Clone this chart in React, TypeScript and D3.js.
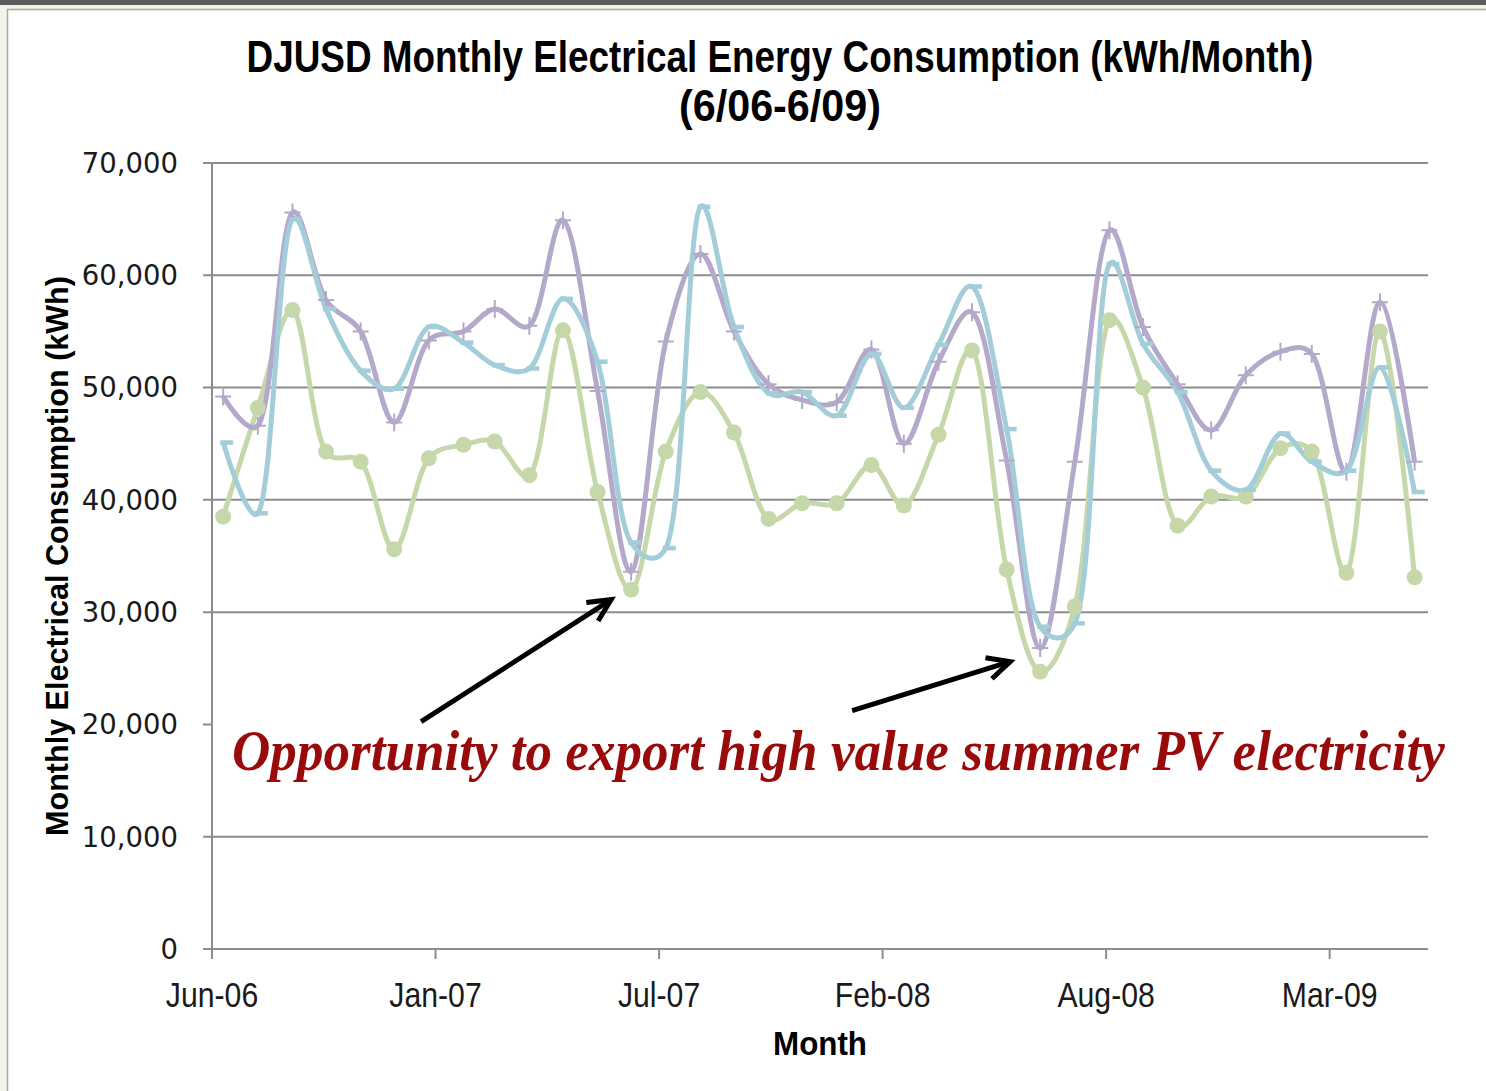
import * as d3 from 'd3';
import React, { useLayoutEffect, useRef, useState } from 'react';

// monthly kWh readings, Jun-06 .. May-09
const months = [
  'Jun-06', 'Jul-06', 'Aug-06', 'Sep-06', 'Oct-06', 'Nov-06', 'Dec-06',
  'Jan-07', 'Feb-07', 'Mar-07', 'Apr-07', 'May-07', 'Jun-07', 'Jul-07',
  'Aug-07', 'Sep-07', 'Oct-07', 'Nov-07', 'Dec-07', 'Jan-08', 'Feb-08',
  'Mar-08', 'Apr-08', 'May-08', 'Jun-08', 'Jul-08', 'Aug-08', 'Sep-08',
  'Oct-08', 'Nov-08', 'Dec-08', 'Jan-09', 'Feb-09', 'Mar-09', 'Apr-09', 'May-09',
];

const purpleKwh = [
  49200, 46600, 65600, 57800, 55000, 46900, 54200, 55000, 57000, 55500, 64900, 49700,
  33600, 54100, 61900, 55000, 50300, 48900, 48700, 53400, 45000, 52300, 56700, 43500,
  26800, 43400, 64000, 55400, 50300, 46200, 51100, 53200, 53000, 42500, 57600, 43400,
];

const blueKwh = [
  45100, 38800, 65000, 57000, 51500, 49900, 55400, 54000, 52000, 51700, 57900, 52300,
  36200, 35700, 66100, 55400, 49500, 49600, 47500, 53000, 48200, 53800, 59000, 46300,
  28700, 29000, 61000, 53900, 49600, 42600, 40900, 45900, 43400, 42600, 51800, 40700,
];

const greenKwh = [
  38500, 48200, 56900, 44300, 43400, 35600, 43700, 44900, 45200, 42200, 55100, 40700,
  32000, 44300, 49600, 46000, 38300, 39700, 39700, 43100, 39500, 45800, 53300, 33800,
  24700, 30500, 56000, 50000, 37700, 40300, 40300, 44600, 44300, 33500, 55000, 33100,
];

const yTicks = [0, 10000, 20000, 30000, 40000, 50000, 60000, 70000];
// excel date axis: min date and 200-day major unit
const xDomain = ['2006-06-20', '2009-06-12'];
const xTickDates = ['2006-06-20', '2007-01-06', '2007-07-25', '2008-02-10', '2008-08-28', '2009-03-16'];

const titleLines = ['DJUSD Monthly Electrical Energy Consumption (kWh/Month)', '(6/06-6/09)'];
const yTitle = 'Monthly Electrical Consumption  (kWh)';
const xTitle = 'Month';
const note = 'Opportunity to export high value summer PV electricity';

const W = 1486;
const H = 1091;
const plot = { left: 212, right: 1428, top: 163, bottom: 949 };

const colors = {
  purple: '#b4a9ca',
  blue: '#a3cdd9',
  green: '#c6d8aa',
  grid: '#8c8c8c',
  note: '#990a0a',
};

const parseIso = d3.timeParse('%Y-%m-%d');
const parseMonth = d3.timeParse('%b-%y');
const fmtMonth = d3.timeFormat('%b-%y');
const fmtNum = d3.format(',');

// each reading sits at the end of its month
const dates = months.map((m) => d3.timeDay.offset(d3.timeMonth.offset(parseMonth(m), 1), -1));

const x = d3.scaleTime().domain(xDomain.map(parseIso)).range([plot.left, plot.right]);
const y = d3.scaleLinear().domain([0, 70000]).range([plot.bottom, plot.top]);

const line = d3.line().curve(d3.curveCatmullRom.alpha(0.3));

function seriesPath(values) {
  return line(values.map((v, i) => [x(dates[i]), y(v)]));
}

// squeeze text horizontally to a measured width (the slide uses a condensed face)
function FitText({ x: tx, y: ty, width, anchor = 'start', rotate = 0, children, ...rest }) {
  const ref = useRef(null);
  const [k, setK] = useState(1);
  useLayoutEffect(() => {
    const w = ref.current ? ref.current.getComputedTextLength() : 0;
    if (w > 0) setK(width / w);
  }, [width, children]);
  return (
    <g transform={`translate(${tx},${ty}) rotate(${rotate}) scale(${k},1)`}>
      <text ref={ref} textAnchor={anchor} {...rest}>
        {children}
      </text>
    </g>
  );
}

function Arrow({ tip, tail }) {
  const ang = Math.atan2(tail[1] - tip[1], tail[0] - tip[0]);
  const len = 25;
  const spread = (26 * Math.PI) / 180;
  const a1 = [tip[0] + len * Math.cos(ang + spread), tip[1] + len * Math.sin(ang + spread)];
  const a2 = [tip[0] + len * Math.cos(ang - spread), tip[1] + len * Math.sin(ang - spread)];
  return (
    <g stroke="#000" strokeWidth={5} fill="none">
      <line x1={tail[0]} y1={tail[1]} x2={tip[0]} y2={tip[1]} />
      <polyline points={`${a1[0]},${a1[1]} ${tip[0]},${tip[1]} ${a2[0]},${a2[1]}`} />
    </g>
  );
}

export default function App() {
  const i1 = months.indexOf('Jun-07');
  const i2 = months.indexOf('Jun-08');
  const p1 = [x(dates[i1]), y(greenKwh[i1])];
  const p2 = [x(dates[i2]), y(greenKwh[i2])];
  const tip1 = [p1[0] - 20, p1[1] + 10];
  const tip2 = [p2[0] - 30, p2[1] - 10];

  const sans = "'Liberation Sans', Arial, sans-serif";

  return (
    <svg
      width={W}
      height={H}
      style={{ position: 'absolute', left: 0, top: 0, display: 'block' }}
      xmlns="http://www.w3.org/2000/svg"
    >
      {/* slide frame */}
      <rect x={0} y={0} width={W} height={H} fill="#eff6e7" />
      <rect x={0} y={0} width={W} height={5} fill="#5a5a5a" />
      <rect x={7.5} y={9.5} width={W} height={H} fill="#fff" stroke="#a8a8a8" strokeWidth={1.5} />

      {/* title */}
      <g fontFamily={sans} fontWeight="bold" fill="#000">
        <FitText x={780} y={72} width={1067} anchor="middle" fontSize={45}>
          {titleLines[0]}
        </FitText>
        <FitText x={780} y={121} width={202} anchor="middle" fontSize={45}>
          {titleLines[1]}
        </FitText>
      </g>

      {/* grid + axes */}
      <g>
        {yTicks.map((t) => (
          <g key={t}>
            <line x1={plot.left - 9} x2={plot.right} y1={y(t)} y2={y(t)} stroke={colors.grid} strokeWidth={2} />
            <text
              x={178}
              y={y(t)}
              dy="0.36em"
              textAnchor="end"
              fontFamily="'DejaVu Sans', Verdana, sans-serif"
              fontSize={27.5}
              fill="#1a1a1a"
            >
              {fmtNum(t)}
            </text>
          </g>
        ))}
        <line x1={plot.left} x2={plot.left} y1={plot.top} y2={plot.bottom} stroke={colors.grid} strokeWidth={2} />
        {xTickDates.map((d) => {
          const xx = x(parseIso(d));
          return (
            <g key={d}>
              <line x1={xx} x2={xx} y1={plot.bottom} y2={plot.bottom + 10} stroke={colors.grid} strokeWidth={2} />
              <text
                transform={`translate(${xx},1007) scale(0.84,1)`}
                textAnchor="middle"
                fontFamily={sans}
                fontSize={36}
                fill="#1a1a1a"
              >
                {fmtMonth(parseIso(d))}
              </text>
            </g>
          );
        })}
      </g>

      {/* axis titles */}
      <g fontFamily={sans} fontWeight="bold" fill="#000">
        <FitText x={68} y={556} rotate={-90} width={560} anchor="middle" fontSize={31}>
          {yTitle}
        </FitText>
        <FitText x={820} y={1055} width={94} anchor="middle" fontSize={34}>
          {xTitle}
        </FitText>
      </g>

      {/* series */}
      <g fill="none" strokeWidth={5} strokeLinejoin="round">
        <path d={seriesPath(greenKwh)} stroke={colors.green} />
        <path d={seriesPath(purpleKwh)} stroke={colors.purple} />
        <path d={seriesPath(blueKwh)} stroke={colors.blue} />
      </g>
      <g fill={colors.green}>
        {greenKwh.map((v, i) => (
          <circle key={i} cx={x(dates[i])} cy={y(v)} r={8} />
        ))}
      </g>
      <g stroke={colors.purple} strokeWidth={2}>
        {purpleKwh.map((v, i) => {
          const cx = x(dates[i]);
          const cy = y(v);
          return <path key={i} d={`M${cx - 8},${cy}H${cx + 8}M${cx},${cy - 9}V${cy + 9}`} />;
        })}
      </g>
      <g fill={colors.blue}>
        {blueKwh.map((v, i) => (
          <rect key={i} x={x(dates[i]) - 3} y={y(v) - 2.3} width={13} height={4.6} />
        ))}
      </g>

      {/* annotation */}
      <rect x={plot.left + 1} y={722} width={1250} height={66} fill="#fff" />
      <FitText
        x={232}
        y={770}
        width={1213}
        fontFamily="'Liberation Serif', 'Times New Roman', serif"
        fontStyle="italic"
        fontWeight="bold"
        fontSize={57}
        fill={colors.note}
      >
        {note}
      </FitText>
      <Arrow tip={tip1} tail={[tip1[0] - 190, tip1[1] + 122]} />
      <Arrow tip={tip2} tail={[tip2[0] - 158, tip2[1] + 49]} />
    </svg>
  );
}
